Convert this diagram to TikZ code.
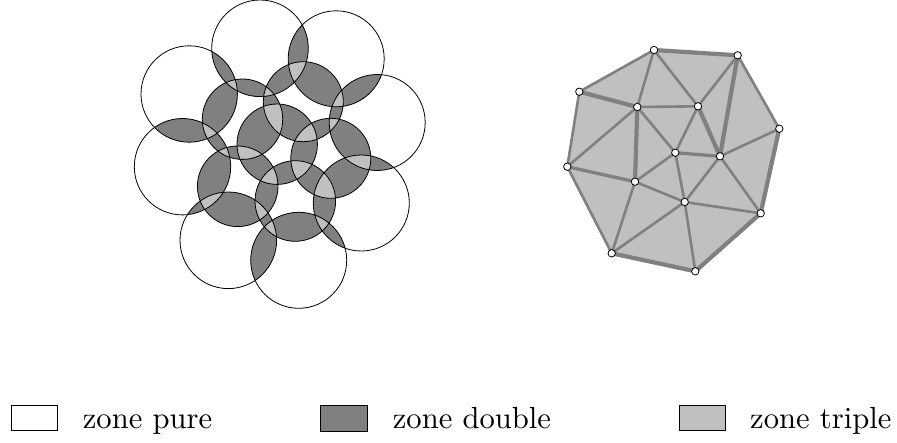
\documentclass[tikz,border=0pt]{standalone}
\definecolor{dbl}{HTML}{808080}
\definecolor{tpl}{HTML}{C0C0C0}
\font\legfont="[lmroman10-regular]:+tlig;" at 30.6pt
\tikzset{
  circline/.style={draw=black,line width=0.8pt},
  tedge/.style={draw=dbl,line width=2.6pt,line cap=round},
  tthick/.style={draw=dbl,line width=4.2pt,line cap=round},
  tmed/.style={draw=dbl,line width=3.3pt,line cap=round},
  vtx/.style={circle,draw=black,fill=white,line width=0.8pt,minimum size=7.4pt,inner sep=0pt},
  legbox/.style={draw=black,line width=0.8pt,minimum width=46.7pt,minimum height=25.7pt,inner sep=0pt},
  legtext/.style={anchor=base west,inner sep=0pt,font=\legfont}
}
\def\circs{260/48.3/48.3, 336.2/58.8/48, 189.2/94/48.2, 377.2/122.5/48, 182.5/166.7/48.2, 361.3/203/48, 228.3/240.3/48.3, 298.7/260.3/48, 242.5/119.2/40.2, 303.3/101.7/40, 277.2/144.2/40.2, 330.8/158.3/40, 237.7/186.3/40.3, 295.3/201/40.3}
\begin{document}
\begin{tikzpicture}[x=1pt,y=-1pt]
\useasboundingbox (0,0) rectangle (897,442);
% double zones
\foreach \xa/\ya/\ra [count=\a] in \circs {
  \foreach \xb/\yb/\rb [count=\b] in \circs {
    \ifnum\a<\b
      \begin{scope}
        \clip (\xa,\ya) circle[radius=\ra];
        \fill[dbl] (\xb,\yb) circle[radius=\rb];
      \end{scope}
    \fi
  }
}
% triple zones
\foreach \xa/\ya/\ra [count=\a] in \circs {
  \foreach \xb/\yb/\rb [count=\b] in \circs {
    \ifnum\a<\b
    \foreach \xc/\yc/\rc [count=\c] in \circs {
      \ifnum\b<\c
        \begin{scope}
          \clip (\xa,\ya) circle[radius=\ra];
          \clip (\xb,\yb) circle[radius=\rb];
          \fill[tpl] (\xc,\yc) circle[radius=\rc];
        \end{scope}
      \fi
    }
    \fi
  }
}
% outlines
\foreach \xa/\ya/\ra in \circs {
  \draw[circline] (\xa,\ya) circle[radius=\ra];
}
% triangulation
\coordinate (tA) at (654,50);
\coordinate (tB) at (737.7,55.3);
\coordinate (tC) at (579.3,91.7);
\coordinate (tD) at (637.3,107);
\coordinate (tE) at (698,106.3);
\coordinate (tF) at (779.3,128.7);
\coordinate (tG) at (675.3,152.7);
\coordinate (tH) at (720,156.3);
\coordinate (tI) at (567.3,166.7);
\coordinate (tJ) at (635,181.7);
\coordinate (tK) at (684.7,202);
\coordinate (tL) at (760.7,213.3);
\coordinate (tM) at (611.7,253.3);
\coordinate (tN) at (695.3,271.3);
\fill[tpl] (tA) -- (tB) -- (tF) -- (tL) -- (tN) -- (tM) -- (tI) -- (tC) -- cycle;
\foreach \p/\q in {A/C,A/D,A/E,B/E,B/F,C/I,D/E,D/I,D/G,E/G,F/H,G/J,G/K,H/K,H/L,I/M,J/K,J/M,K/L,K/M,K/N}
  \draw[tedge] (t\p) -- (t\q);
\foreach \p/\q in {A/B,C/D,B/H,D/J,E/H,F/L,M/N,N/L}
  \draw[tthick] (t\p) -- (t\q);
\foreach \p/\q in {I/J,G/H}
  \draw[tmed] (t\p) -- (t\q);
\foreach \p in {A,B,C,D,E,F,G,H,I,J,K,L,M,N}
  \node[vtx] (v\p) at (t\p) {};
% legend
\node[legbox,fill=white] (b1) at (34.3,417.8) {};
\node[legbox,fill=dbl] (b2) at (344.2,418.2) {};
\node[legbox,fill=tpl] (b3) at (702.3,417.8) {};
\node[legtext] (l1) at (82.7,428.2) {zone pure};
\node[legtext] (l2) at (392.7,428.2) {zone double};
\node[legtext] (l3) at (750,428.2) {zone triple};
\end{tikzpicture}
\end{document}
